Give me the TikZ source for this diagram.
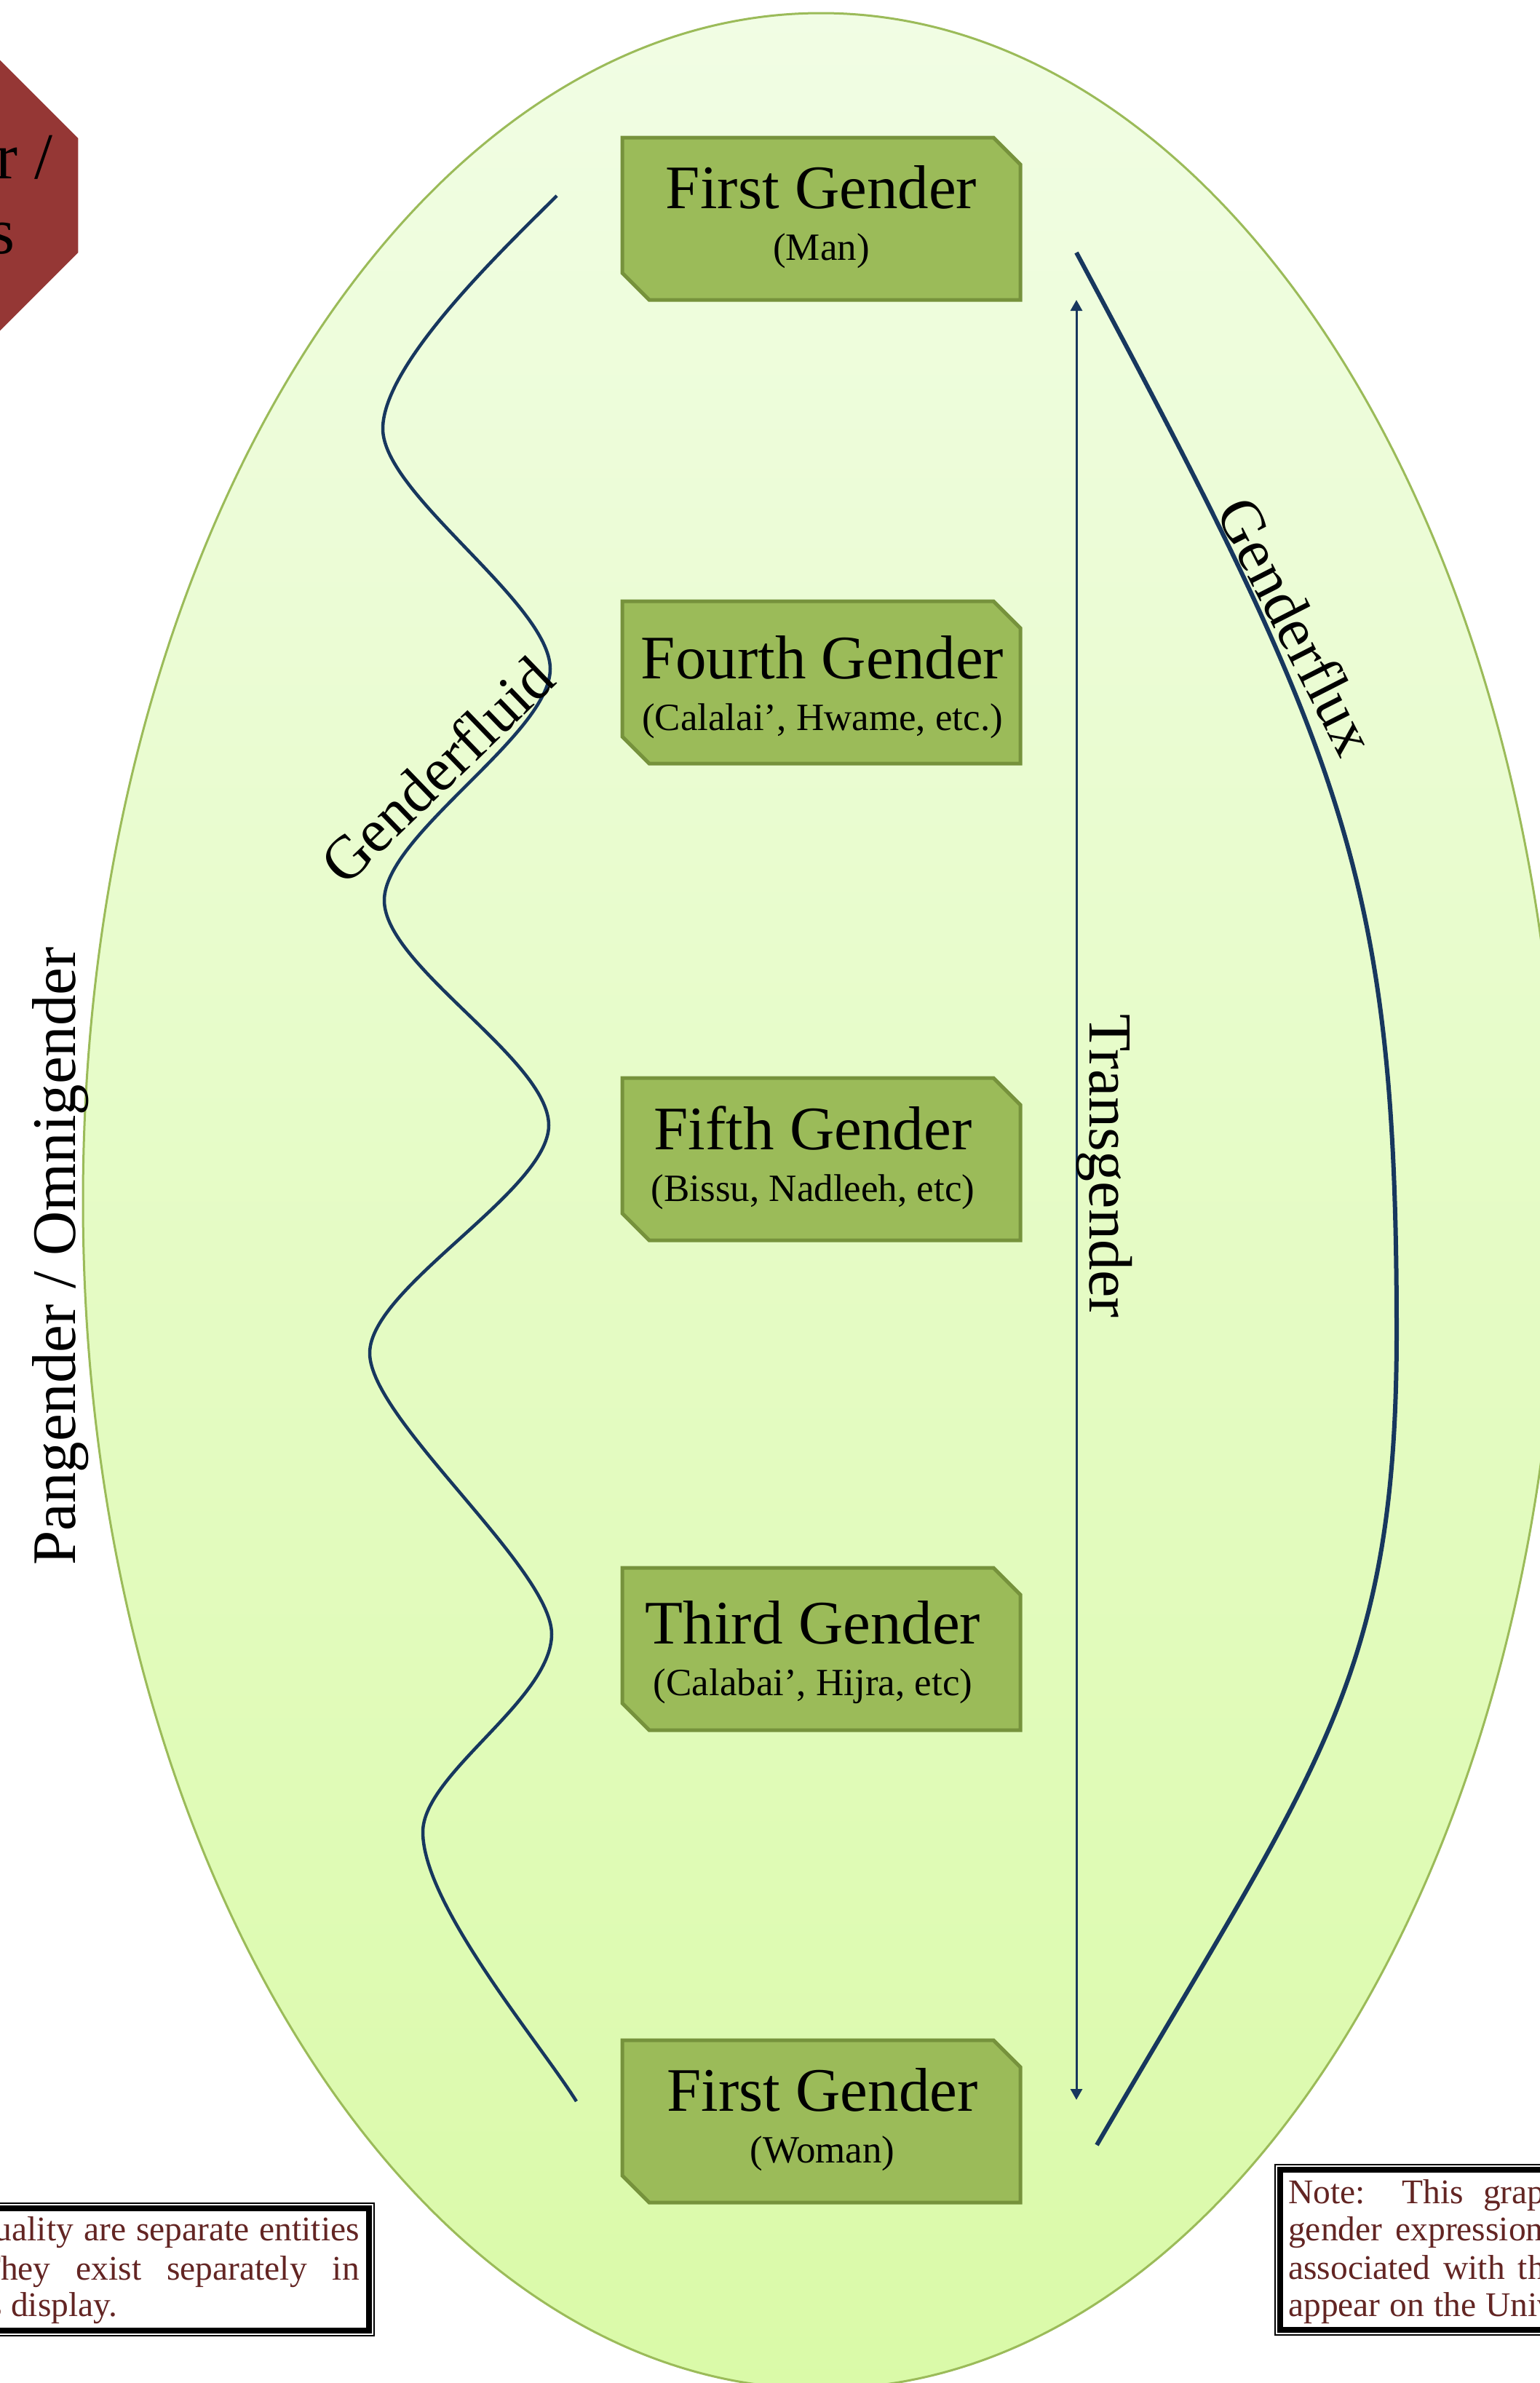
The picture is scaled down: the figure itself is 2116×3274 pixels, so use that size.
\documentclass[tikz,border=0pt]{standalone}
\usepackage{fontspec}
\setmainfont{Liberation Serif}
\usetikzlibrary{shapes.geometric,arrows.meta}
\definecolor{navy}{RGB}{23,55,94}
\definecolor{gfill}{RGB}{155,187,89}
\definecolor{gline}{RGB}{118,146,60}
\definecolor{elltop}{RGB}{241,253,228}
\definecolor{ellbot}{RGB}{218,250,168}
\definecolor{ellline}{RGB}{155,187,89}
\definecolor{octred}{RGB}{149,55,53}
\definecolor{notered}{RGB}{99,37,35}
\newcommand\wgap[1]{\hspace*{#1pt}}
% name, top y, title, subtitle, title baseline offset, text centre x
\newcommand\genderbox[6]{%
  \node[gbox] (#1) at (1128.5,#2+111.5) {};
  \path[gboxline] (#1.north west) -- ([xshift=-37pt]#1.north east)
    -- ([yshift=-37pt]#1.north east) -- (#1.south east)
    -- ([xshift=37pt]#1.south west) -- ([yshift=37pt]#1.south west) -- cycle;
  \node[gtitle] (#1t) at (#6,#2+#5) {#3};
  \node[gsub] (#1s) at (#6,#2+#5+71) {#4};
}
\begin{document}
\begin{tikzpicture}[x=1pt,y=-1pt,
  egg/.style={ellipse, minimum width=2028pt, minimum height=3264pt, inner sep=0pt,
    top color=elltop, bottom color=ellbot, draw=ellline, line width=3pt},
  gbox/.style={rectangle, minimum width=547pt, minimum height=223pt, inner sep=0pt, outer sep=0pt},
  gboxline/.style={fill=gfill, draw=gline, line width=5pt, line join=miter},
  gtitle/.style={anchor=base, inner sep=0pt, font=\fontsize{85}{100}\selectfont},
  gsub/.style={anchor=base, inner sep=0pt, font=\fontsize{53}{60}\selectfont},
  lab/.style={inner sep=0pt, font=\fontsize{84}{100}\selectfont},
  octo/.style={regular polygon, regular polygon sides=8, minimum size=410pt, inner sep=0pt, fill=octred},
  octlab/.style={anchor=base, inner sep=0pt, font=\fontsize{90}{100}\selectfont},
  notebox/.style={rectangle, draw=black, line width=2pt, fill=white, inner sep=0pt},
  notethick/.style={draw=black, line width=7.5pt},
  notetxt/.style={inner sep=0pt, text=notered, font=\fontsize{47.5}{52}\selectfont},
  fluid/.style={draw=navy, line width=4.5pt},
  flux/.style={draw=navy, line width=6pt},
  trans/.style={draw=navy, line width=3pt, {Triangle[length=15pt,width=16pt]}-{Triangle[length=15pt,width=16pt]}}
]
\useasboundingbox (0,0) rectangle (2116,3274);
\fill[white] (0,0) rectangle (2116,3274);

% background egg
\node[egg] (egg) at (1128,1650) {};

% top-left octagon
\node[octo] (oct) at (-82,268.5) {};
\node[octlab] (oct1) at (-84,245) {Gender /};
\node[octlab] (oct2) at (-84,348) {Sexes};

% gender boxes
\genderbox{g1}{189}{First Gender}{(Man)}{97}{1128.5}
\genderbox{g4}{826}{Fourth Gender}{(Calalai’, Hwame, etc.)}{106}{1130}
\genderbox{g5}{1481}{Fifth Gender}{(Bissu, Nadleeh, etc)}{98}{1117}
\genderbox{g3}{2154}{Third Gender}{(Calabai’, Hijra, etc)}{104}{1117}
\genderbox{gw}{2803}{First Gender}{(Woman)}{97}{1130}

% genderfluid wave
\coordinate (f0) at (765,269);
\coordinate (f1) at (526,589);
\coordinate (f2) at (756,919);
\coordinate (f3) at (528,1237);
\coordinate (f4) at (754,1546);
\coordinate (f5) at (508,1859);
\coordinate (f6) at (758,2245);
\coordinate (f7) at (581,2517);
\coordinate (f8) at (792,2887);
\draw[fluid] (f0) .. controls +(-70,70) and +(0,-90) .. (f1)
  .. controls +(0,90) and +(0,-90) .. (f2)
  .. controls +(0,90) and +(0,-90) .. (f3)
  .. controls +(0,90) and +(0,-90) .. (f4)
  .. controls +(0,90) and +(0,-90) .. (f5)
  .. controls +(0,90) and +(0,-90) .. (f6)
  .. controls +(0,90) and +(0,-80) .. (f7)
  .. controls +(0,100) and +(-50,-80) .. (f8);

% genderflux arc
\coordinate (x0) at (1479,347);
\coordinate (x1) at (1919,1830);
\coordinate (x2) at (1507,2947);
\draw[flux] (x0) .. controls +(370,690) and +(0,-620) .. (x1)
  .. controls +(0,480) and +(302,-518) .. (x2);

% transgender arrow
\coordinate (t0) at (1479,412);
\coordinate (t1) at (1479,2885);
\draw[trans] (t0) -- (t1);

% labels
\node[lab, rotate=44] (lfluid) at (600,1058) {Genderfluid};
\node[lab, rotate=-63] (lflux) at (1782,860) {Genderflux};
\node[lab, rotate=-90] (ltrans) at (1518,1602) {Transgender};
\node[lab, rotate=90, anchor=base, font=\fontsize{85}{100}\selectfont] (lpan) at (103,1726) {Pangender / Omnigender};

% note boxes
\node[notebox, anchor=north east, minimum width=1200pt, minimum height=182pt] (noteL) at (515,3026) {};
\draw[notethick] ([xshift=8pt,yshift=-8pt]noteL.north west) rectangle ([xshift=-8pt,yshift=8pt]noteL.south east);
\node[notetxt, anchor=base east] (nl1) at (494,3078) {Note: Gender and sexuality\wgap{14}are\wgap{14}separate\wgap{14}entities};
\node[notetxt, anchor=base east] (nl2) at (494,3132) {in their own right.\wgap{35}They\wgap{35}exist\wgap{35}separately\wgap{35}in};
\node[notetxt, anchor=base west] (nl3) at (15,3182) {\llap{in this\ }display.};

\node[notebox, anchor=north west, minimum width=900pt, minimum height=234pt] (noteR) at (1751,2973) {};
\draw[notethick] ([xshift=8pt,yshift=-8pt]noteR.north west) rectangle ([xshift=-8pt,yshift=8pt]noteR.south east);
\node[notetxt, anchor=base west] (nr1) at (1770,3027) {Note:\wgap{51}This\wgap{27}graph\wgap{27}represents};
\node[notetxt, anchor=base west] (nr2) at (1770,3078) {gender\wgap{18}expressions\wgap{18}and identities};
\node[notetxt, anchor=base west] (nr3) at (1770,3131) {associated\wgap{18}with\wgap{18}the\wgap{18}genders that};
\node[notetxt, anchor=base west] (nr4) at (1770,3182) {appear\wgap{13}on\wgap{13}the\wgap{13}Universal Gender Spectrum.};
\end{tikzpicture}
\end{document}
